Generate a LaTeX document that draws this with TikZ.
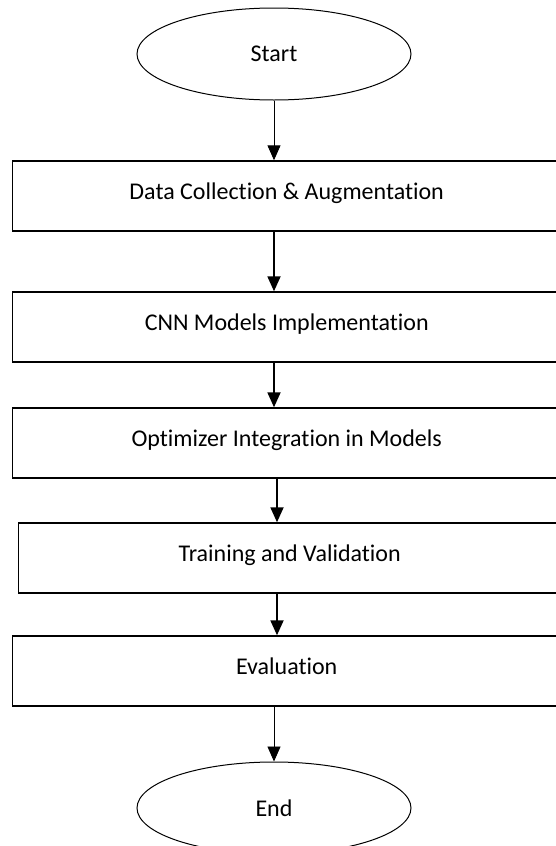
\documentclass[tikz,border=0pt]{standalone}
\usepackage{fontspec}
\setmainfont{Carlito}[Ligatures=NoCommon]
\usetikzlibrary{arrows.meta,shapes.geometric}
\begin{document}
\begin{tikzpicture}[x=1pt,y=-1pt,
  term/.style={draw,ellipse,line width=1pt,minimum width=274pt,minimum height=92pt,inner sep=0pt,font=\fontsize{24}{28}\selectfont},
  stepbox/.style={draw,rectangle,line width=1.4pt,minimum height=70pt,inner sep=0pt,anchor=west,
     font=\fontsize{24}{28}\selectfont,text height=18pt,text depth=12pt},
  thinarrow/.style={-{Triangle[width=13pt,length=15pt]},line width=0.9pt},
  thickarrow/.style={-{Triangle[width=13pt,length=15pt]},line width=1.8pt}]
\useasboundingbox (0,0) rectangle (556,846);
\clip (0,0) rectangle (556,846);
\node[term] (start) at (274,54) {Start};
\node[stepbox,minimum width=548pt] (s1) at (12,196) {Data Collection \& Augmentation};
\node[stepbox,minimum width=548pt] (s2) at (12,327) {CNN Models Implementation};
\node[stepbox,minimum width=548pt] (s3) at (12,443) {Optimizer Integration in Models};
\node[stepbox,minimum width=542pt] (s4) at (18,558) {Training and Validation};
\node[stepbox,minimum width=548pt] (s5) at (12,671) {Evaluation};
\node[term] (end) at (274,808) {End};
\draw[thinarrow] (start.south) -- (start.south |- s1.north);
\draw[thickarrow] (s1.south -| start.south) -- (start.south |- s2.north);
\draw[thickarrow] (s2.south -| start.south) -- (start.south |- s3.north);
\draw[thickarrow] ([xshift=3pt]s3.south -| start.south) -- ([xshift=3pt]start.south |- s4.north);
\draw[thickarrow] ([xshift=3pt]s4.south -| start.south) -- ([xshift=3pt]start.south |- s5.north);
\draw[thinarrow] (s5.south -| start.south) -- (end.north);
\end{tikzpicture}
\end{document}
